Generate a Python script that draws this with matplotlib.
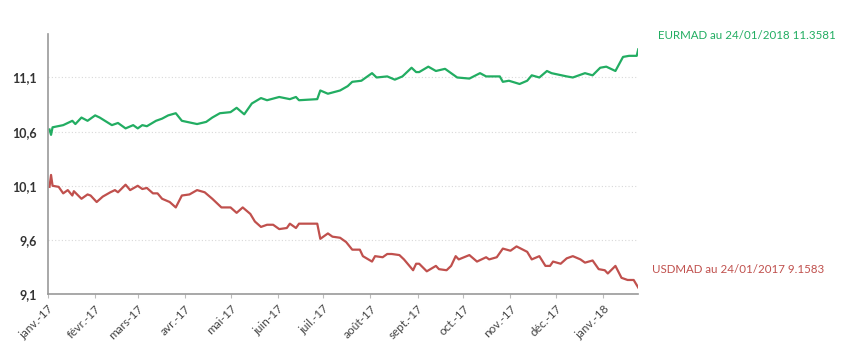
import pandas as pd
import matplotlib.pyplot as plt

# EURMAD
eur_dates = ["2017-01-02", "2017-01-03", "2017-01-04", "2017-01-11", "2017-01-17", "2017-01-19",
             "2017-01-23", "2017-01-27", "2017-02-01", "2017-02-04", "2017-02-12", "2017-02-16",
             "2017-02-21", "2017-02-26", "2017-03-01", "2017-03-04", "2017-03-07", "2017-03-13",
             "2017-03-17", "2017-03-21", "2017-03-26", "2017-03-30", "2017-04-09", "2017-04-15",
             "2017-04-19", "2017-04-24", "2017-05-01", "2017-05-05", "2017-05-10", "2017-05-15",
             "2017-05-21", "2017-05-25", "2017-06-02", "2017-06-09", "2017-06-13", "2017-06-15",
             "2017-06-27", "2017-06-29", "2017-07-04", "2017-07-12", "2017-07-17", "2017-07-20",
             "2017-07-26", "2017-08-02", "2017-08-05", "2017-08-12", "2017-08-17", "2017-08-22",
             "2017-08-28", "2017-08-31", "2017-09-02", "2017-09-08", "2017-09-13", "2017-09-19",
             "2017-09-27", "2017-10-05", "2017-10-12", "2017-10-16", "2017-10-25", "2017-10-27",
             "2017-10-31", "2017-11-07", "2017-11-12", "2017-11-15", "2017-11-20", "2017-11-25",
             "2017-11-28", "2017-12-08", "2017-12-12", "2017-12-20", "2017-12-25", "2017-12-30",
             "2018-01-03", "2018-01-09", "2018-01-14", "2018-01-18", "2018-01-23", "2018-01-24"]
eur_values = [10.62, 10.57, 10.64, 10.66, 10.70, 10.67, 10.73, 10.70, 10.75, 10.73, 10.66, 10.68,
              10.63, 10.66, 10.63, 10.66, 10.65, 10.70, 10.72, 10.75, 10.77, 10.70, 10.67, 10.69,
              10.73, 10.77, 10.78, 10.82, 10.76, 10.86, 10.91, 10.89, 10.92, 10.90, 10.92, 10.89,
              10.90, 10.98, 10.95, 10.98, 11.02, 11.06, 11.07, 11.14, 11.10, 11.11, 11.08, 11.11,
              11.19, 11.15, 11.15, 11.20, 11.16, 11.18, 11.10, 11.09, 11.14, 11.11, 11.11, 11.06,
              11.07, 11.04, 11.07, 11.12, 11.10, 11.16, 11.14, 11.11, 11.10, 11.14, 11.12, 11.19,
              11.20, 11.16, 11.29, 11.30, 11.30, 11.36]

# USDMAD
usd_dates = ["2017-01-02", "2017-01-03", "2017-01-04", "2017-01-08", "2017-01-11", "2017-01-14",
             "2017-01-17", "2017-01-18", "2017-01-23", "2017-01-27", "2017-01-29", "2017-02-02",
             "2017-02-06", "2017-02-11", "2017-02-14", "2017-02-16", "2017-02-21", "2017-02-24",
             "2017-03-01", "2017-03-04", "2017-03-07", "2017-03-11", "2017-03-14", "2017-03-17",
             "2017-03-22", "2017-03-26", "2017-03-30", "2017-04-04", "2017-04-09", "2017-04-14",
             "2017-04-19", "2017-04-25", "2017-05-01", "2017-05-05", "2017-05-09", "2017-05-14",
             "2017-05-17", "2017-05-21", "2017-05-25", "2017-05-29", "2017-06-02", "2017-06-07",
             "2017-06-09", "2017-06-13", "2017-06-15", "2017-06-20", "2017-06-27", "2017-06-29",
             "2017-07-04", "2017-07-07", "2017-07-12", "2017-07-16", "2017-07-20", "2017-07-25",
             "2017-07-27", "2017-08-02", "2017-08-04", "2017-08-09", "2017-08-12", "2017-08-15",
             "2017-08-20", "2017-08-23", "2017-08-29", "2017-08-31", "2017-09-02", "2017-09-07",
             "2017-09-13", "2017-09-15", "2017-09-20", "2017-09-23", "2017-09-26", "2017-09-28",
             "2017-10-05", "2017-10-10", "2017-10-16", "2017-10-18", "2017-10-23", "2017-10-27",
             "2017-11-01", "2017-11-05", "2017-11-12", "2017-11-15", "2017-11-20", "2017-11-24",
             "2017-11-27", "2017-11-29", "2017-12-04", "2017-12-08", "2017-12-12", "2017-12-17",
             "2017-12-20", "2017-12-25", "2017-12-29", "2018-01-02", "2018-01-04", "2018-01-09",
             "2018-01-13", "2018-01-17", "2018-01-21", "2018-01-24"]
usd_values = [10.09, 10.20, 10.10, 10.09, 10.03, 10.06, 10.01, 10.05, 9.98, 10.02, 10.01, 9.95,
              10.00, 10.04, 10.06, 10.04, 10.11, 10.06, 10.10, 10.07, 10.08, 10.03, 10.03, 9.98,
              9.95, 9.90, 10.01, 10.02, 10.06, 10.04, 9.98, 9.90, 9.90, 9.85, 9.90, 9.84,
              9.77, 9.72, 9.74, 9.74, 9.70, 9.71, 9.75, 9.71, 9.75, 9.75, 9.75, 9.61,
              9.66, 9.63, 9.62, 9.58, 9.51, 9.51, 9.45, 9.40, 9.45, 9.44, 9.47, 9.47,
              9.46, 9.42, 9.32, 9.38, 9.38, 9.31, 9.36, 9.33, 9.32, 9.36, 9.45, 9.42,
              9.46, 9.40, 9.44, 9.42, 9.44, 9.52, 9.50, 9.54, 9.49, 9.42, 9.45, 9.36,
              9.36, 9.40, 9.38, 9.43, 9.45, 9.42, 9.39, 9.41, 9.33, 9.32, 9.29, 9.36,
              9.25, 9.23, 9.23, 9.16]

month_labels = ["janv.-17", "févr.-17", "mars-17", "avr.-17", "mai-17", "juin-17", "juil.-17",
                "août-17", "sept.-17", "oct.-17", "nov.-17", "déc.-17", "janv.-18"]
y_ticks = [9.1, 9.6, 10.1, 10.6, 11.1]

green = "#22ad62"
red = "#c0504d"
font = ["Lato", "DejaVu Sans"]

fig = plt.figure(figsize=(8.42, 3.56), dpi=100)
ax = fig.add_axes([0.057, 0.174, 0.701, 0.730])

ax.plot(pd.to_datetime(eur_dates), eur_values, color=green, lw=1.6)
ax.plot(pd.to_datetime(usd_dates), usd_values, color=red, lw=1.6)

ax.set_ylim(9.1, 11.5)
ax.set_xlim(pd.Timestamp("2017-01-01"), pd.Timestamp("2018-01-24"))
ax.set_yticks(y_ticks)
ax.set_yticklabels([f"{v:.1f}".replace(".", ",") for v in y_ticks],
                   fontsize=9, fontweight="bold", color="#333333", family=font)
ticks = pd.date_range("2017-01-01", periods=len(month_labels), freq="MS")
ax.set_xticks(ticks)
ax.set_xticklabels(month_labels, rotation=45, ha="right", rotation_mode="anchor",
                   fontsize=8.5, color="#444444", family=font)
ax.tick_params(axis="y", length=0, pad=8)
ax.tick_params(axis="x", length=3, color="#bbbbbb")

ax.grid(axis="y", linestyle=(0, (1, 2)), color="#d8d8d8", lw=0.8)
for s in ["top", "right"]:
    ax.spines[s].set_visible(False)
ax.spines["left"].set_color("#999999")
ax.spines["bottom"].set_color("#999999")
ax.spines["left"].set_linewidth(1.2)
ax.spines["bottom"].set_linewidth(1.2)

fig.text(0.781, 0.90, "EURMAD au 24/01/2018 11.3581", color=green, fontsize=8.3,
         va="center", ha="left", family=font)
fig.text(0.774, 0.242, "USDMAD au 24/01/2017 9.1583", color=red, fontsize=8.3,
         va="center", ha="left", family=font)

fig.savefig("out.png", dpi=100)
